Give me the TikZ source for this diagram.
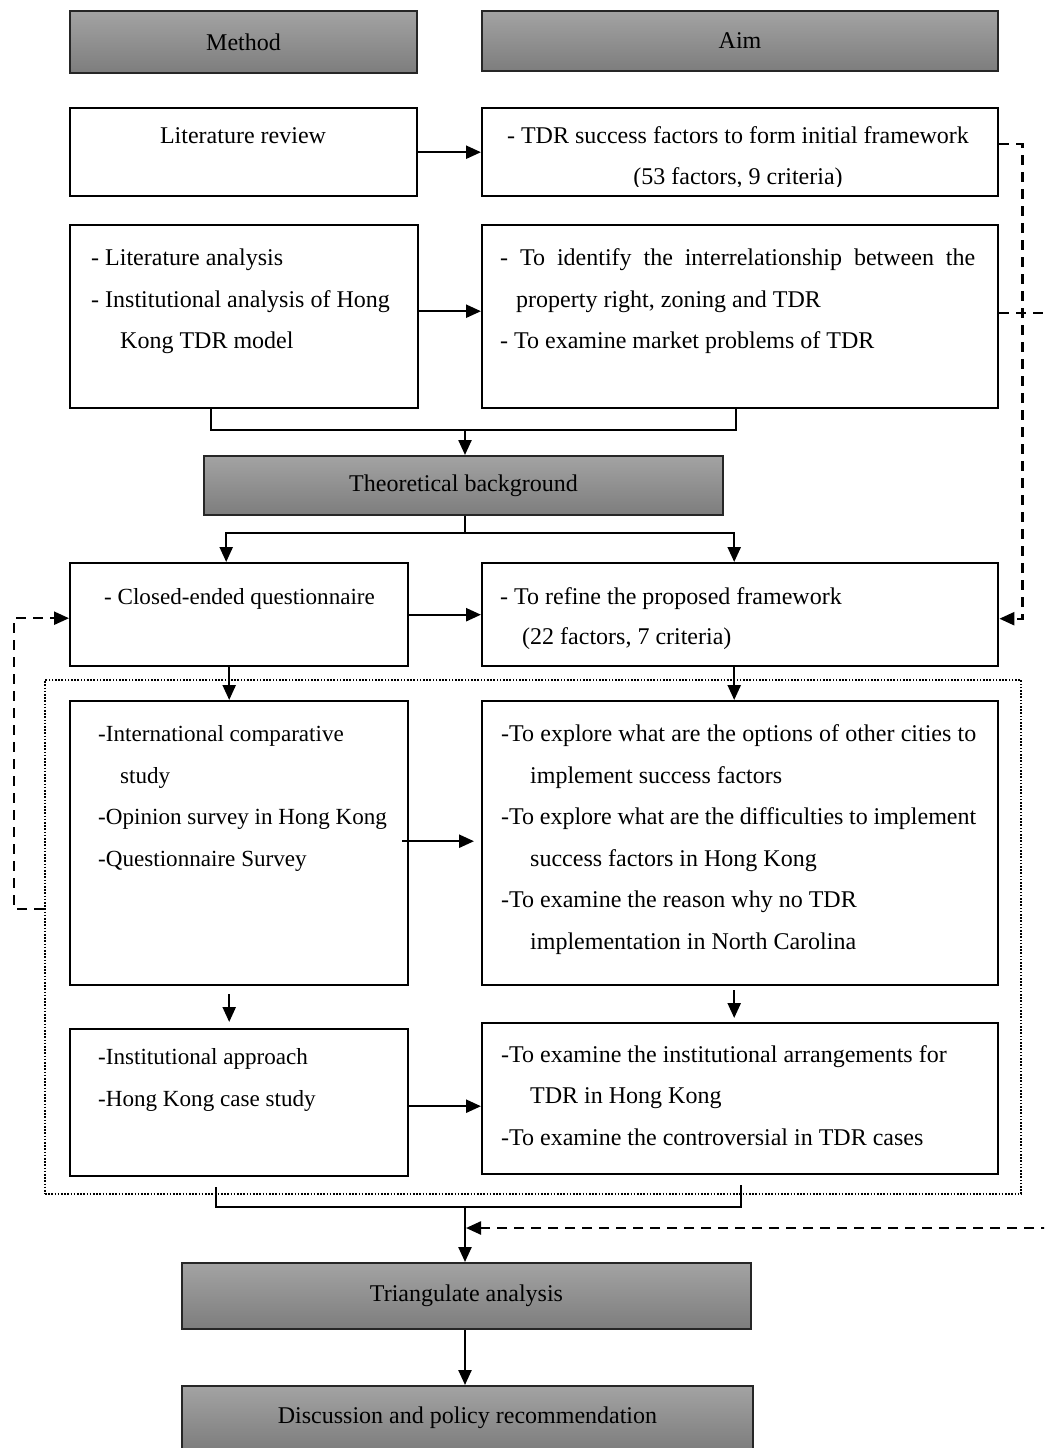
\documentclass[tikz,border=0pt]{standalone}
\usepackage{fontspec}
\setmainfont{Liberation Serif}
\usetikzlibrary{arrows.meta}
\definecolor{shadetop}{HTML}{A3A3A3}
\definecolor{shadebot}{HTML}{7D7D7D}
\begin{document}
\begin{tikzpicture}[x=1pt,y=-1pt,
  frame/.style={draw=black,line width=2.4pt,fill=white,anchor=north west,inner sep=0pt},
  headbox/.style={draw=black!85,line width=2pt,top color=shadetop,bottom color=shadebot,
    anchor=north west,inner sep=0pt,font=\fontsize{24}{28}\selectfont},
  txt/.style={anchor=base west,inner sep=0pt,font=\fontsize{24}{28}\selectfont},
  ltxt/.style={anchor=base west,inner sep=0pt,font=\fontsize{23.1}{28}\selectfont},
  ctxt/.style={anchor=base,inner sep=0pt,font=\fontsize{24}{28}\selectfont},
  group/.style={draw=black,line width=1.8pt,dash pattern=on 1.6pt off 1.6pt,anchor=north west,inner sep=0pt},
  flow/.style={line width=2.4pt,-{Triangle[length=15pt,width=13pt]}},
  link/.style={line width=2.4pt},
  feedback/.style={line width=2.4pt,dash pattern=on 10pt off 7pt,-{Triangle[length=15pt,width=13pt]}},
]
\clip (0,0) rectangle (1044,1448);

% column headings
\node[headbox,minimum width=347pt,minimum height=62pt] (method) at (69,10) {Method};
\node[headbox,minimum width=516pt,minimum height=60pt] (aim) at (481,10) {Aim};

% stage 1: literature review
\node[frame,minimum width=347pt,minimum height=88pt] (lr) at (69,107) {};
\node[ctxt] (lrt) at (243,143) {Literature review};
\node[frame,minimum width=516pt,minimum height=88pt] (tdr) at (481,107) {};
\node[ctxt] (tdra) at (738,143) {- TDR success factors to form initial framework};
\begin{scope}
  % the second line sits in a text area that ends above the frame
  \clip (482,150) rectangle (996,186);
  \node[ctxt] (tdrb) at (738,184.5) {(53 factors, 9 criteria)};
\end{scope}

% stage 2: analysis
\node[frame,minimum width=348pt,minimum height=183pt] (la) at (69,224) {};
\node[txt] (laa) at (91,265.5) {- Literature analysis};
\node[txt] (lab) at (91,307) {- Institutional analysis of Hong};
\node[txt] (lac) at (120,348.5) {Kong TDR model};
\node[frame,minimum width=516pt,minimum height=183pt] (ir) at (481,224) {};
\node[txt] (ira) at (500,265.5) {\makebox[475pt][s]{- To identify the interrelationship between the}};
\node[txt] (irb) at (516,307) {property right, zoning and TDR};
\node[txt] (irc) at (500,348.5) {- To examine market problems of TDR};

\node[headbox,minimum width=519pt,minimum height=59pt] (theo) at (203,455) {Theoretical background};

% stage 3: questionnaire
\node[frame,minimum width=338pt,minimum height=103pt] (cq) at (69,562) {};
\node[ltxt] (cqt) at (104,604.5) {- Closed-ended questionnaire};
\node[frame,minimum width=516pt,minimum height=103pt] (rf) at (481,562) {};
\node[txt] (rfa) at (500,604.5) {- To refine the proposed framework};
\node[txt] (rfb) at (522,644.5) {(22 factors, 7 criteria)};

% stage 4: comparative and case studies
\node[group,minimum width=976pt,minimum height=514pt] (grp) at (44,679) {};
\node[frame,minimum width=338pt,minimum height=284pt] (ic) at (69,700) {};
\node[ltxt] (ica) at (98,741.5) {-International comparative};
\node[ltxt] (icb) at (120,783) {study};
\node[ltxt] (icc) at (98,824.5) {-Opinion survey in Hong Kong};
\node[ltxt] (icd) at (98,866) {-Questionnaire Survey};
\node[frame,minimum width=516pt,minimum height=284pt] (ex) at (481,700) {};
\node[txt] (exa) at (501,741.5) {\makebox[475pt][s]{-To explore what are the options of other cities to}};
\node[txt] (exb) at (530,783) {implement success factors};
\node[txt] (exc) at (501,824.5) {\makebox[475pt][s]{-To explore what are the difficulties to implement}};
\node[txt] (exd) at (530,866) {success factors in Hong Kong};
\node[txt] (exe) at (501,907.5) {-To examine the reason why no TDR};
\node[txt] (exf) at (530,949) {implementation in North Carolina};

\node[frame,minimum width=338pt,minimum height=147pt] (ia) at (69,1028) {};
\node[ltxt] (iaa) at (98,1064.5) {-Institutional approach};
\node[ltxt] (iab) at (98,1106) {-Hong Kong case study};
\node[frame,minimum width=516pt,minimum height=151pt] (ea) at (481,1022) {};
\node[txt] (eaa) at (501,1062) {-To examine the institutional arrangements for};
\node[txt] (eab) at (530,1103.5) {TDR in Hong Kong};
\node[txt] (eac) at (501,1145) {-To examine the controversial in TDR cases};

% synthesis
\node[headbox,minimum width=569pt,minimum height=66pt] (tri) at (181,1262) {Triangulate analysis};
\node[headbox,minimum width=571pt,minimum height=64pt] (disc) at (181,1385) {Discussion and policy recommendation};

% junction points
\coordinate (join1) at (465,430);
\coordinate (split) at (465,533);
\coordinate (join2) at (465,1207);
\coordinate (fbin) at (466,1228);

% main flow
\draw[flow] (lr.east) -- (tdr.west);
\draw[flow] ([yshift=5.5pt]la.east) -- ([yshift=5.5pt]ir.west);
\draw[link] ([xshift=-33pt]la.south) |- (join1) -| ([xshift=-4pt]ir.south);
\draw[flow] (join1) -- (join1 |- theo.north);
\draw[link] (theo.south -| split) -- (split);
\draw[flow] (split) -| ([xshift=-13pt]cq.north);
\draw[flow] (split) -| ([xshift=-6pt]rf.north);
\draw[flow] (cq.east) -- (rf.west);
\draw[flow] ([xshift=-10pt]cq.south) -- ([xshift=-10pt]ic.north);
\draw[flow] ([xshift=-6pt]rf.south) -- ([xshift=-6pt]ex.north);
\draw[flow] ([xshift=-7pt,yshift=2pt]ic.east) -- ([xshift=-7pt,yshift=2pt]ex.west);
\draw[flow] ([xshift=-10pt,yshift=-8pt]ic.south) -- ([xshift=-10pt,yshift=6pt]ia.north);
\draw[flow] ([xshift=-6pt,yshift=-4pt]ex.south) -- ([xshift=-6pt,yshift=4pt]ea.north);
\draw[flow] ([yshift=-3.5pt]ia.east) -- ([yshift=-3.5pt]ia.east -| ea.west);
\draw[link] ([xshift=-23pt,yshift=-10pt]ia.south) |- (join2) -| ([xshift=1pt,yshift=-10pt]ea.south);
\draw[flow] (join2) -- (join2 |- tri.north);
\draw[flow] (tri.south -| join2) -- (disc.north -| join2);

% feedback loops
\draw[feedback] ([yshift=8pt]tdr.east) -- ++(23,0) |- ([yshift=-4pt]rf.east);
\draw[feedback] ([yshift=3.5pt]ir.east) -- ++(70,0) |- (fbin);
\draw[feedback] ([yshift=28pt]grp.west) -- ++(-30,0) |- ([yshift=-3.5pt]cq.west);
\end{tikzpicture}
\end{document}
